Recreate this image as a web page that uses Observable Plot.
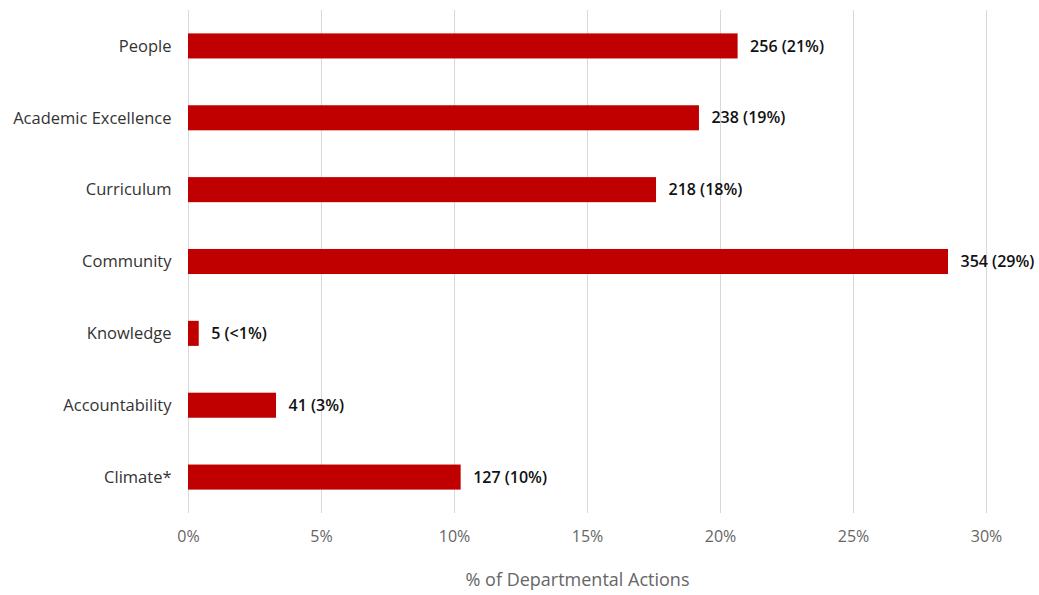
<!DOCTYPE html>
<html>
<head>
<meta charset="utf-8">
<script src="https://cdn.jsdelivr.net/npm/d3@7"></script>
<script src="https://cdn.jsdelivr.net/npm/@observablehq/plot@0.6"></script>
<style>
  html, body { margin: 0; padding: 0; background: #fff; }
  #chart svg { display: block; }
</style>
</head>
<body>
<div id="chart"></div>
<script>
const categories = ["People", "Academic Excellence", "Curriculum", "Community", "Knowledge", "Accountability", "Climate*"];
const counts = [256, 238, 218, 354, 5, 41, 127];
const pctLabels = ["21%", "19%", "18%", "29%", "<1%", "3%", "10%"];
const xTicks = [0, 0.05, 0.10, 0.15, 0.20, 0.25, 0.30];
const xLabel = "% of Departmental Actions";

const total = d3.sum(counts);
const data = categories.map((c, i) => ({
  category: c,
  count: counts[i],
  share: counts[i] / total,
  label: `${counts[i]} (${pctLabels[i]})`
}));

const font = "'Open Sans', Lato, sans-serif";

const chart = Plot.plot({
  width: 1039,
  height: 595,
  marginLeft: 188,
  marginRight: 53,
  marginTop: 10,
  marginBottom: 82,
  style: { fontFamily: font, background: "#fff" },
  x: { domain: [0, 0.30] },
  y: { domain: categories, padding: 0, round: false },
  marks: [
    Plot.gridX(xTicks, { stroke: "#d9d9d9", strokeOpacity: 1, strokeWidth: 1 }),
    Plot.barX(data, { x: "share", y: "category", fill: "#c00000", insetTop: 23.4, insetBottom: 23.4 }),
    Plot.text(data, {
      x: "share", y: "category", text: "label",
      dx: 12, textAnchor: "start",
      fontSize: 16, fontWeight: 600, fill: "#111"
    }),
    Plot.axisY({ tickSize: 0, tickPadding: 17, fontSize: 16.5, color: "#333", label: null }),
    Plot.axisX(xTicks, {
      tickSize: 0, tickPadding: 17, fontSize: 16, color: "#666",
      tickFormat: d => `${Math.round(d * 100)}%`,
      label: null
    }),
    Plot.text([xLabel], { frameAnchor: "bottom", dx: -10, dy: 72, fontSize: 18, fill: "#666", text: d => d })
  ]
});

document.getElementById("chart").appendChild(chart);
</script>
</body>
</html>
